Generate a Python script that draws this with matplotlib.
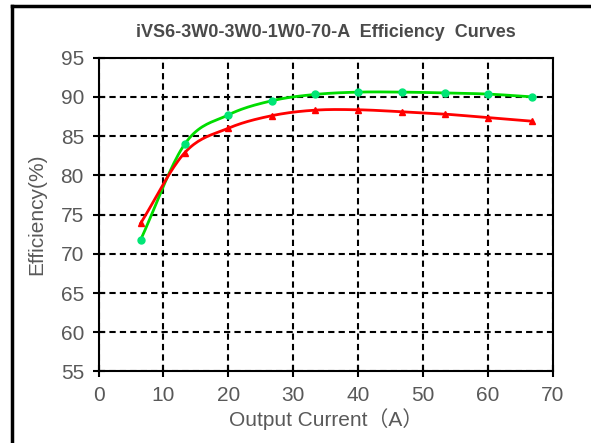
import matplotlib.pyplot as plt
from matplotlib.lines import Line2D
import numpy as np

plt.rcParams['font.family'] = ['Liberation Sans', 'Noto Sans CJK SC', 'DejaVu Sans']

# Data
current = [6.5, 13.3, 20.0, 26.7, 33.3, 40.0, 46.7, 53.3, 60.0, 66.7]
eff_green = [71.8, 84.0, 87.7, 89.5, 90.3, 90.6, 90.6, 90.5, 90.35, 90.0]
eff_red = [73.9, 82.9, 86.0, 87.6, 88.3, 88.35, 88.1, 87.8, 87.35, 86.9]

x_ticks = list(range(0, 71, 10))
y_ticks = list(range(55, 96, 5))


def smooth(xs, ys, n=20):
    # Catmull-Rom path through the points (like a spreadsheet "smoothed line")
    p = np.column_stack([xs, ys]).astype(float)
    p = np.vstack([2 * p[0] - p[1], p, 2 * p[-1] - p[-2]])
    out = []
    t = np.linspace(0, 1, n, endpoint=False)[:, None]
    for i in range(1, len(p) - 2):
        p0, p1, p2, p3 = p[i - 1], p[i], p[i + 1], p[i + 2]
        seg = 0.5 * ((2 * p1) + (-p0 + p2) * t + (2 * p0 - 5 * p1 + 4 * p2 - p3) * t ** 2
                     + (-p0 + 3 * p1 - 3 * p2 + p3) * t ** 3)
        out.append(seg)
    out.append(p[-2][None, :])
    out = np.vstack(out)
    return out[:, 0], out[:, 1]


fig = plt.figure(figsize=(5.91, 4.43), dpi=100)
ax = fig.add_axes([0.1667, 0.1614, 0.7690, 0.7086])

gx, gy = smooth(current, eff_green)
rx, ry = smooth(current, eff_red)
ax.plot(gx, gy, color='#00DD00', lw=2, zorder=3)
ax.plot(current, eff_green, 'o', color='#00E676', ms=5, zorder=4)
ax.plot(rx, ry, color='#FF0000', lw=2, zorder=3)
ax.plot(current, eff_red, '^', color='#FF0000', ms=5, zorder=4)

ax.set_xlim(0, 70)
ax.set_ylim(55, 95)
ax.set_xticks(x_ticks)
ax.set_yticks(y_ticks)
ax.grid(True, color='black', linestyle=(0, (3, 2)), lw=1.5)
ax.tick_params(direction='inout', length=9, width=1.5, colors='black',
               labelcolor='#595959', labelsize=15, pad=6)
for s in ax.spines.values():
    s.set_linewidth(1.5)

ax.set_xlabel('Output Current（A）', fontsize=15, color='#595959', labelpad=2)
ax.set_ylabel('Efficiency(%)', fontsize=15, color='#595959', labelpad=10)
ax.set_title('iVS6-3W0-3W0-1W0-70-A  Efficiency  Curves', fontsize=13,
             fontweight='bold', color='#4a4a4a', pad=15)

# outer frame (left and top edges of the chart area)
fig.add_artist(Line2D([0.0195, 0.0195], [0, 0.986], color='black', lw=2.5))
fig.add_artist(Line2D([0.0195, 1.0], [0.986, 0.986], color='black', lw=2.5))

fig.savefig('out.png', dpi=100)
